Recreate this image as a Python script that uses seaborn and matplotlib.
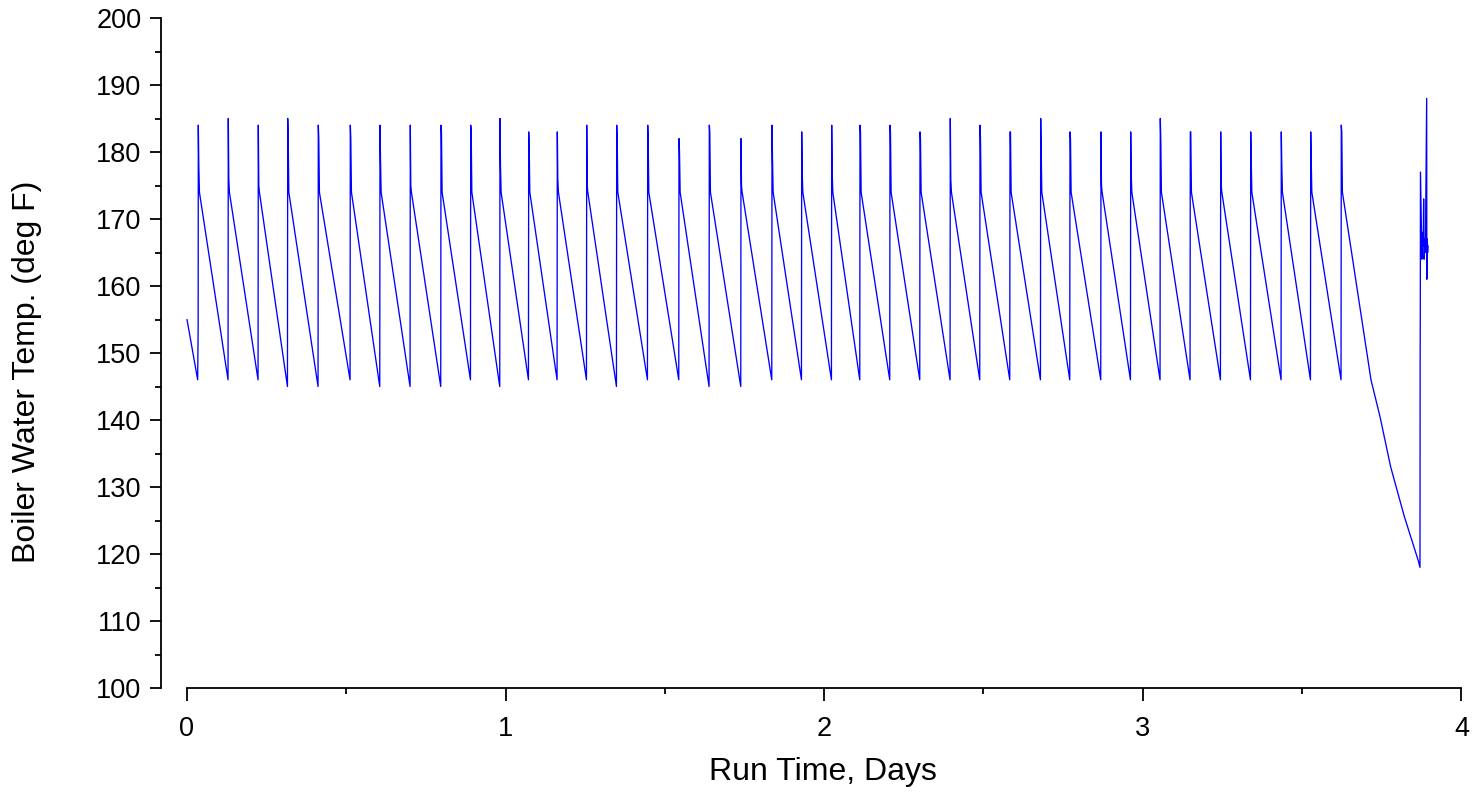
import numpy as np
import pandas as pd
import matplotlib
matplotlib.use("Agg")
import matplotlib.pyplot as plt
from matplotlib.ticker import MultipleLocator
import seaborn as sns

# Burner cycles: time of each firing (days), peak temperature at firing,
# temperature right after the burner shuts off, and the low point just
# before each firing (deg F).
peak_days = [0.0355, 0.1296, 0.2238, 0.3161, 0.4121, 0.5126, 0.6058, 0.7009,
             0.7972, 0.8905, 0.9824, 1.0725, 1.1623, 1.2546, 1.3487, 1.4460,
             1.5443, 1.6394, 1.7389, 1.8362, 1.9294, 2.0235, 2.1124, 2.2065,
             2.3007, 2.3958, 2.4890, 2.5832, 2.6795, 2.7715, 2.8688, 2.9620,
             3.0549, 3.1491, 3.2445, 3.3387, 3.4347, 3.5270, 3.6230]
peak_temps = [184, 185, 184, 185, 184, 184, 184, 184, 184, 184,
              185, 183, 183, 184, 184, 184, 182, 184, 182, 184,
              183, 184, 184, 184, 183, 185, 184, 183, 185, 183,
              183, 183, 185, 183, 183, 183, 183, 183, 184]
settle_temps = [178, 176, 175, 182, 182, 182, 179, 175, 183, 183,
                178, 181, 176, 175, 182, 182, 180, 183, 175, 179,
                177, 177, 183, 183, 182, 176, 182, 183, 180, 182,
                175, 177, 182, 183, 175, 179, 178, 179, 183]
trough_temps = [146, 146, 146, 145, 145, 146, 145, 145, 145, 146,
                145, 146, 146, 146, 145, 146, 146, 145, 145, 146,
                146, 146, 146, 146, 146, 146, 146, 146, 146, 146,
                146, 146, 146, 146, 146, 146, 146, 146, 146]
cooldown_start_temp = 174

# Opening reading before the first firing
start_days = [0.0, 0.0335, 0.0350]
start_temps = [155, 146, 154]

# Final cool-down after the burner stops cycling
cooldown_days = [3.7162, 3.7445, 3.7780, 3.8208, 3.8647, 3.8700]
cooldown_temps = [146, 140.5, 133, 125.6, 119, 118]

# Restart transient at the end of the run
restart_days = [3.8705, 3.8710, 3.8715, 3.8760, 3.8770, 3.8790, 3.8800,
                3.8815, 3.8830, 3.8850, 3.8870, 3.8910, 3.8915, 3.8930,
                3.8940, 3.8950]
restart_temps = [149, 156, 177, 164, 167, 168, 166, 173, 164, 167, 165,
                 188, 161, 167, 165, 166]

x_ticks = [0, 1, 2, 3, 4]
y_ticks = [100, 110, 120, 130, 140, 150, 160, 170, 180, 190, 200]

# Assemble the trace vertex by vertex
days = list(start_days)
temps = list(start_temps)
n = len(peak_days)
for k in range(n):
    t = peak_days[k]
    if k > 0:
        days.append(t - 0.0008)
        temps.append(trough_temps[k])
    days += [t, t + 0.0015, t + 0.0035]
    temps += [peak_temps[k], settle_temps[k], cooldown_start_temp]
days += cooldown_days + restart_days
temps += cooldown_temps + restart_temps

df = pd.DataFrame({"Run Time, Days": days, "Boiler Water Temp. (deg F)": temps})

sns.set_theme(style="ticks")
plt.rcParams["font.family"] = ["Liberation Sans", "DejaVu Sans"]

W, H = 1480, 793
fig = plt.figure(figsize=(W / 100, H / 100), dpi=100)
ax = fig.add_axes([161 / W, (H - 688) / H, 1302 / W, 670 / H])

sns.lineplot(data=df, x="Run Time, Days", y="Boiler Water Temp. (deg F)",
             sort=False, estimator=None, color="#0000FF", linewidth=0.95, ax=ax)

ax.set_xlim((161 - 187) / 318.6, (1463 - 187) / 318.6)
ax.set_ylim(100, 200)
ax.set_xticks(x_ticks)
ax.set_yticks(y_ticks)
ax.xaxis.set_minor_locator(MultipleLocator(0.5))
ax.yaxis.set_minor_locator(MultipleLocator(5))

for side in ("top", "right"):
    ax.spines[side].set_visible(False)
ax.spines["bottom"].set_bounds(0, 4)
ax.spines["left"].set_bounds(100, 200)
for side in ("left", "bottom"):
    ax.spines[side].set_linewidth(1.3)
    ax.spines[side].set_color("black")

ax.tick_params(axis="both", which="both", direction="out", width=1.3,
               color="black", labelsize=19.5, labelcolor="black")
ax.tick_params(axis="y", which="major", length=8, pad=6)
ax.tick_params(axis="y", which="minor", length=4)
ax.tick_params(axis="x", which="major", length=9.5, pad=11)
ax.tick_params(axis="x", which="minor", length=4.5)
ax.grid(False)
ax.set_facecolor("white")

ax.set_xlabel("Run Time, Days", fontsize=23, color="black")
ax.set_ylabel("Boiler Water Temp. (deg F)", fontsize=23, color="black")
ax.xaxis.label.set_va("center")
ax.xaxis.set_label_coords((823 - 161) / 1302, (688 - 772) / 670)
ax.yaxis.label.set(ha="center", va="center", rotation_mode="default")
ax.yaxis.set_label_coords((27 - 161) / 1302, (688 - 372) / 670)

fig.savefig("out.png", dpi=100, facecolor="white")
